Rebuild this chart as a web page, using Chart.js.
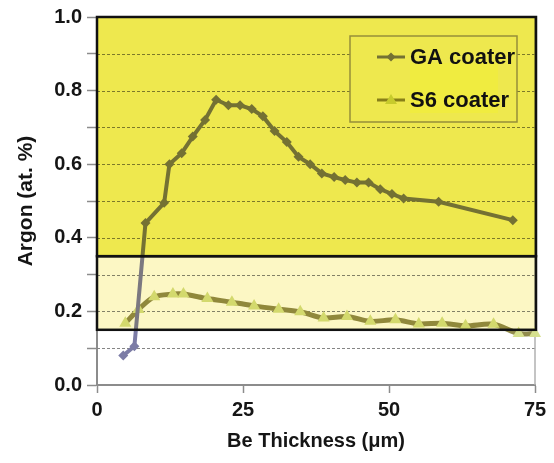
<!DOCTYPE html>
<html>
<head>
<meta charset="utf-8">
<title>Argon vs Be thickness</title>
<script src="https://cdn.jsdelivr.net/npm/chart.js@4/dist/chart.umd.min.js"></script>
<style>
    html, body { margin: 0; padding: 0; background: #fff; }
    #wrap { width: 554px; height: 463px; }
</style>
</head>
<body>
<div id="wrap"><canvas id="argonChart" width="554" height="463"></canvas></div>
<script>
// ==================== Data ====================

// GA coater
const gaThickness = [4.5, 6.4, 8.3, 11.5, 12.4, 14.5, 16.4, 18.5, 20.4, 22.5, 24.5, 26.5, 28.4, 30.4,
    32.5, 34.5, 36.5, 38.5, 40.6, 42.5, 44.5, 46.5, 48.5, 50.5, 52.5, 58.5, 71.2];
const gaArgon = [0.08, 0.105, 0.44, 0.495, 0.60, 0.63, 0.675, 0.72, 0.775, 0.76, 0.76, 0.75, 0.73, 0.69,
    0.66, 0.62, 0.60, 0.575, 0.565, 0.557, 0.55, 0.55, 0.532, 0.519, 0.507, 0.498, 0.448];

// S6 coater
const s6Thickness = [4.85, 7.1, 9.8, 13.0, 14.8, 18.9, 23.1, 26.9, 31.1, 34.8, 38.8, 42.8, 46.8,
    51.1, 55.1, 59.1, 63.1, 67.9, 72.2, 75];
const s6Argon = [0.168, 0.205, 0.24, 0.247, 0.247, 0.235, 0.225, 0.215, 0.206, 0.199, 0.182, 0.186, 0.173,
    0.177, 0.166, 0.168, 0.161, 0.165, 0.14, 0.14];

const seriesLabels = ['GA coater', 'S6 coater'];

// Shaded bands (argon at. %)
const upperBand = [0.35, 1.0];
const lowerBand = [0.15, 0.35];

// Axis ranges
const xRange = [0, 75];
const xStep = 25;
const yRange = [0, 1];
const yStep = 0.1;

// ==================== Colours ====================

const GA_COLOR = 'rgb(124,124,166)';
const S6_LINE = 'rgb(146,140,76)';
const S6_MARK = 'rgb(214,224,142)';
const BAND_HIGH = 'rgb(238,232,78)';
const BAND_LOW = 'rgb(252,247,196)';
const AXIS_GRAY = '#8c8c8c';

Chart.defaults.font.family = "'Liberation Sans', Arial, sans-serif";
Chart.defaults.color = '#151515';

// ==================== Plugin: bands, grid, boxes, legend ====================

const bandsPlugin = {
    id: 'bands',
    beforeDraw(chart) {
        const ctx = chart.ctx;
        ctx.save();
        ctx.fillStyle = '#fff';
        ctx.fillRect(0, 0, chart.width, chart.height);
        ctx.restore();
    },
    beforeDatasetsDraw(chart) {
        const { ctx, chartArea, scales } = chart;
        ctx.save();
        // dashed horizontal grid
        ctx.strokeStyle = '#858585';
        ctx.lineWidth = 1;
        ctx.setLineDash([3, 2]);
        scales.y.ticks.forEach(t => {
            if (t.value <= yRange[0] || t.value >= yRange[1]) return;
            const y = Math.round(scales.y.getPixelForValue(t.value)) + 0.5;
            ctx.beginPath();
            ctx.moveTo(chartArea.left, y);
            ctx.lineTo(chartArea.right, y);
            ctx.stroke();
        });
        // right edge line at x max
        ctx.setLineDash([]);
        ctx.strokeStyle = '#b0b0b0';
        ctx.lineWidth = 1.5;
        const xr = scales.x.getPixelForValue(xRange[1]);
        ctx.beginPath();
        ctx.moveTo(xr, chartArea.top);
        ctx.lineTo(xr, chartArea.bottom);
        ctx.stroke();
        ctx.restore();
    },
    afterDatasetsDraw(chart) {
        const { ctx, chartArea, scales } = chart;
        const left = chartArea.left;
        const right = chartArea.right + 1;
        const yHiTop = scales.y.getPixelForValue(upperBand[1]);
        const yMid = scales.y.getPixelForValue(upperBand[0]);
        const yLoBot = scales.y.getPixelForValue(lowerBand[0]);

        // legend box geometry
        const lg = { x: left + 253, y: chartArea.top + 19, w: 167, h: 86 };
        const rows = [lg.y + 21, lg.y + 64];

        ctx.save();
        // legend background + symbols (tinted by the band below)
        ctx.fillStyle = '#fff';
        ctx.fillRect(lg.x, lg.y, lg.w, lg.h);
        chart.data.datasets.forEach((ds, i) => {
            const ry = rows[i];
            ctx.strokeStyle = ds.borderColor;
            ctx.lineWidth = 3;
            ctx.beginPath();
            ctx.moveTo(lg.x + 27, ry);
            ctx.lineTo(lg.x + 55, ry);
            ctx.stroke();
            ctx.fillStyle = ds.pointBackgroundColor;
            ctx.beginPath();
            if (i === 0) {
                ctx.moveTo(lg.x + 41, ry - 4.5);
                ctx.lineTo(lg.x + 45.5, ry);
                ctx.lineTo(lg.x + 41, ry + 4.5);
                ctx.lineTo(lg.x + 36.5, ry);
            } else {
                ctx.moveTo(lg.x + 41, ry - 6);
                ctx.lineTo(lg.x + 47, ry + 4);
                ctx.lineTo(lg.x + 35, ry + 4);
            }
            ctx.closePath();
            ctx.fill();
        });

        // coloured bands, multiplied over everything drawn so far
        ctx.globalCompositeOperation = 'multiply';
        ctx.fillStyle = BAND_HIGH;
        ctx.fillRect(left, yHiTop, right - left, yMid - yHiTop);
        ctx.fillStyle = BAND_LOW;
        ctx.fillRect(left, yMid, right - left, yLoBot - yMid);
        ctx.globalCompositeOperation = 'source-over';

        // black frames
        ctx.strokeStyle = '#111';
        ctx.lineWidth = 2.5;
        ctx.strokeRect(left, yHiTop, right - left, yMid - yHiTop);
        ctx.strokeRect(left, yMid, right - left, yLoBot - yMid);

        // legend frame, faint highlight and text
        ctx.fillStyle = 'rgb(240,236,64)';
        ctx.fillRect(lg.x + 60, lg.y + 27, 88, 50);
        ctx.strokeStyle = 'rgb(150,142,58)';
        ctx.lineWidth = 1.5;
        ctx.strokeRect(lg.x, lg.y, lg.w, lg.h);
        ctx.fillStyle = '#111';
        ctx.font = "bold 22px 'Liberation Sans', Arial, sans-serif";
        ctx.textBaseline = 'middle';
        ctx.textAlign = 'left';
        seriesLabels.forEach((label, i) => {
            ctx.fillText(label, lg.x + 60, rows[i] + 1);
        });
        ctx.restore();
    }
};

// ==================== Chart ====================

const ctx = document.getElementById('argonChart');

new Chart(ctx, {
    type: 'line',
    data: {
        datasets: [
            {
                label: seriesLabels[0],
                data: gaThickness.map((x, i) => ({ x: x, y: gaArgon[i] })),
                borderColor: GA_COLOR,
                backgroundColor: GA_COLOR,
                borderWidth: 4,
                pointStyle: 'rectRot',
                pointRadius: 5,
                pointBackgroundColor: GA_COLOR,
                pointBorderWidth: 0,
                tension: 0,
                clip: false
            },
            {
                label: seriesLabels[1],
                data: s6Thickness.map((x, i) => ({ x: x, y: s6Argon[i] })),
                borderColor: S6_LINE,
                backgroundColor: S6_MARK,
                borderWidth: 5,
                pointStyle: 'triangle',
                pointRadius: 7,
                pointBackgroundColor: S6_MARK,
                pointBorderWidth: 0,
                tension: 0.3,
                clip: false
            }
        ]
    },
    options: {
        responsive: false,
        animation: false,
        layout: { padding: { top: 17, right: 19, bottom: 0, left: 0 } },
        plugins: {
            legend: { display: false },
            tooltip: { enabled: false }
        },
        scales: {
            x: {
                type: 'linear',
                min: xRange[0],
                max: xRange[1],
                afterFit: s => { s.height = 78; },
                ticks: {
                    stepSize: xStep,
                    padding: 5,
                    font: { size: 20, weight: 'bold' },
                    color: '#151515'
                },
                grid: {
                    drawOnChartArea: false,
                    drawTicks: true,
                    tickLength: 8,
                    tickColor: AXIS_GRAY,
                    tickWidth: 1.5
                },
                border: { color: AXIS_GRAY, width: 2 },
                title: {
                    display: true,
                    text: 'Be Thickness (\u03bcm)',
                    font: { size: 20, weight: 'bold' },
                    color: '#151515',
                    padding: { top: 0, bottom: 10 }
                }
            },
            y: {
                type: 'linear',
                min: yRange[0],
                max: yRange[1],
                afterFit: s => { s.width = 97; },
                ticks: {
                    stepSize: yStep,
                    autoSkip: false,
                    padding: 5,
                    font: { size: 20, weight: 'bold' },
                    color: '#151515',
                    callback: (v, i) => (i % 2 === 0 ? v.toFixed(1) : '')
                },
                grid: {
                    drawOnChartArea: false,
                    drawTicks: true,
                    tickLength: 10,
                    tickColor: AXIS_GRAY,
                    tickWidth: 1.5
                },
                border: { color: AXIS_GRAY, width: 2 },
                title: {
                    display: true,
                    text: 'Argon (at. %)',
                    font: { size: 21, weight: 'bold' },
                    color: '#151515',
                    padding: { top: 14, bottom: 0 }
                }
            }
        }
    },
    plugins: [bandsPlugin]
});
</script>
</body>
</html>
